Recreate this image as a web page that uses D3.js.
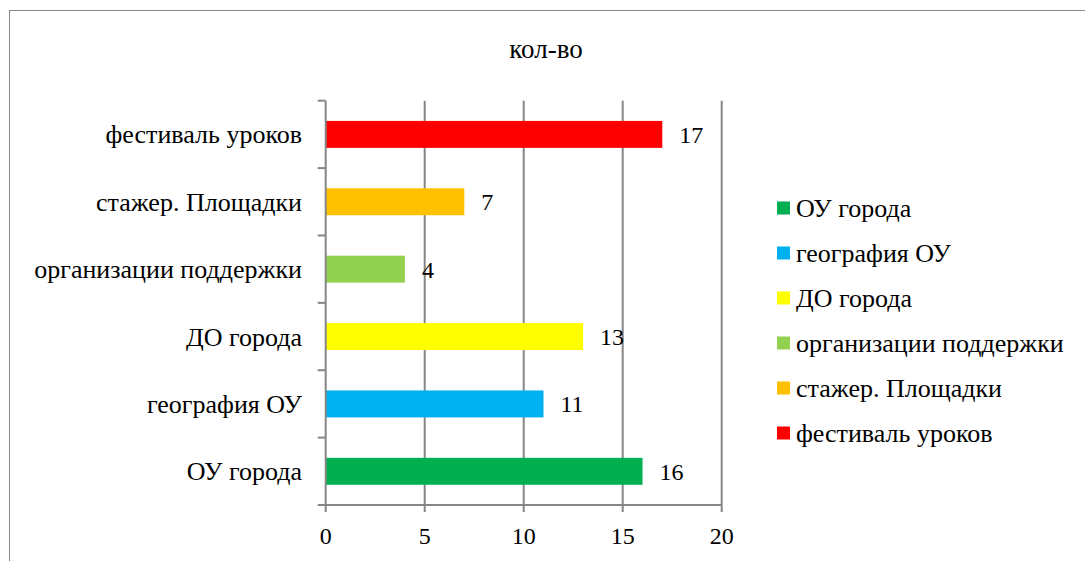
<!DOCTYPE html>
<html><head><meta charset="utf-8">
<script src="https://cdn.jsdelivr.net/npm/d3@7"></script>
<style>body{margin:0;background:#fff}svg{display:block}</style>
</head><body>
<svg id="c" width="1085" height="561"></svg>
<script>
const categories = ["ОУ города","география ОУ","ДО города","организации поддержки","стажер. Площадки","фестиваль уроков"];
const values = [16, 11, 13, 4, 7, 17];
const colors = ["#00B050","#00B0F0","#FFFF00","#92D050","#FFC000","#FF0000"];
const xTicks = [0, 5, 10, 15, 20];
const title = "кол-во";

const FONT = "'Liberation Serif', 'Tinos', 'Times New Roman', 'DejaVu Serif', serif";
const svg = d3.select("#c").attr("font-family", FONT).style("font-family", FONT);
const grey = "#868686";
svg.append("rect").attr("x",9.5).attr("y",10.5).attr("width",1100).attr("height",600)
  .attr("fill","#fff").attr("stroke",grey).attr("stroke-width",1);

const pLeft = 325.7, pRight = 721.7, pTop = 100.7, pBottom = 505;
const x = d3.scaleLinear().domain([0,20]).range([pLeft,pRight]);
const y = d3.scaleBand().domain(categories.slice().reverse()).range([pTop,pBottom]).paddingInner(0.6).paddingOuter(0.3);
const yb = d3.scaleBand().domain(categories.slice().reverse()).range([pTop,pBottom]);

svg.append("text").attr("x",546).attr("y",58).attr("text-anchor","middle").attr("font-size",27).text(title);

// gridlines
svg.append("g").selectAll("line").data(xTicks.slice(1)).join("line")
  .attr("x1",d=>x(d)).attr("x2",d=>x(d)).attr("y1",pTop).attr("y2",pBottom)
  .attr("stroke",grey).attr("stroke-width",2);

// bars
svg.append("g").selectAll("rect").data(categories).join("rect")
  .attr("x",x(0)).attr("y",d=>y(d)).attr("height",y.bandwidth())
  .attr("width",(d,i)=>x(values[i])-x(0)).attr("fill",(d,i)=>colors[i]);

// value labels
svg.append("g").selectAll("text").data(categories).join("text")
  .attr("x",(d,i)=>x(values[i])+17).attr("y",d=>y(d)+y.bandwidth()/2)
  .attr("dy","0.35em").attr("font-size",24).text((d,i)=>values[i]);

// y axis
const ya = svg.append("g");
ya.append("line").attr("x1",pLeft).attr("x2",pLeft).attr("y1",pTop).attr("y2",pBottom).attr("stroke",grey).attr("stroke-width",2);
const yTickPos = yb.domain().map(d=>yb(d)).concat([pBottom]);
ya.selectAll("line.t").data(yTickPos).join("line").attr("class","t")
  .attr("x1",pLeft-8).attr("x2",pLeft).attr("y1",d=>d).attr("y2",d=>d).attr("stroke",grey).attr("stroke-width",2);
ya.selectAll("text").data(categories).join("text")
  .attr("x",302).attr("y",d=>yb(d)+yb.bandwidth()/2).attr("dy","0.35em")
  .attr("text-anchor","end").attr("font-size",26).text(d=>d);

// x axis
const xa = svg.append("g");
xa.append("line").attr("x1",pLeft).attr("x2",pRight).attr("y1",pBottom).attr("y2",pBottom).attr("stroke",grey).attr("stroke-width",2);
xa.selectAll("line.t").data(xTicks).join("line").attr("class","t")
  .attr("x1",d=>x(d)).attr("x2",d=>x(d)).attr("y1",pBottom).attr("y2",pBottom+7).attr("stroke",grey).attr("stroke-width",2);
xa.selectAll("text").data(xTicks).join("text")
  .attr("x",d=>x(d)).attr("y",544).attr("text-anchor","middle").attr("font-size",24).text(d=>d);

// legend
const lg = svg.append("g").selectAll("g").data(categories).join("g")
  .attr("transform",(d,i)=>`translate(777,${208+i*45})`);
lg.append("rect").attr("x",0).attr("y",-6.5).attr("width",13).attr("height",13).attr("fill",(d,i)=>colors[i]);
lg.append("text").attr("x",19).attr("y",0).attr("dy","0.35em").attr("font-size",26).text(d=>d);
</script>
</body></html>
